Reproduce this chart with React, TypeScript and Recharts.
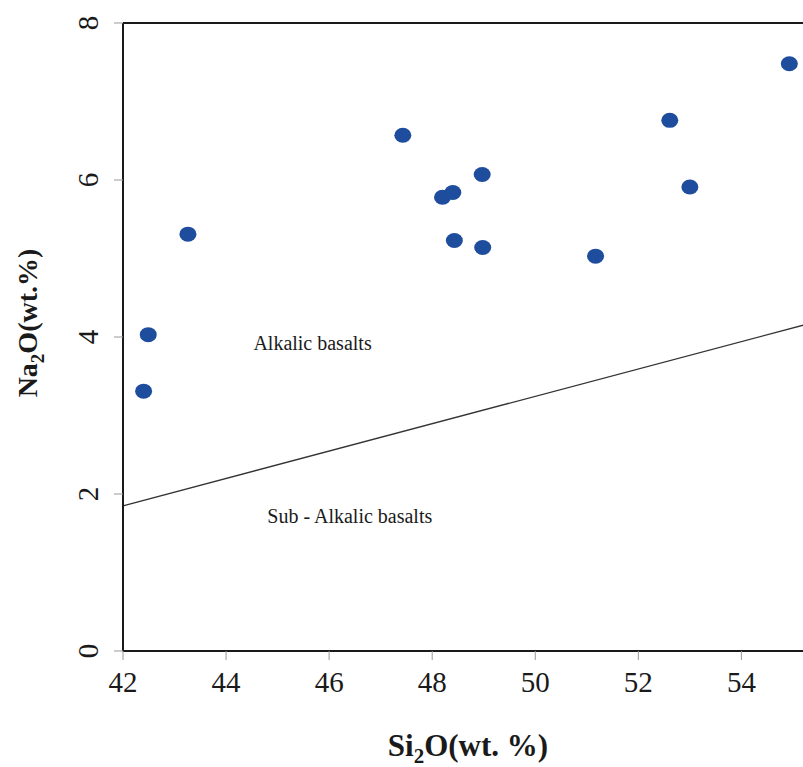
import { ScatterChart, Scatter, XAxis, YAxis, ReferenceLine, Label } from 'recharts';

const SIO2 = [42.4, 42.49, 43.26, 47.43, 48.2, 48.4, 48.43, 48.97, 48.98, 51.17, 52.61, 53.0, 54.93];
const NA2O = [3.31, 4.03, 5.31, 6.57, 5.78, 5.84, 5.23, 6.07, 5.14, 5.03, 6.76, 5.91, 7.48];
const X_TICKS = [42, 44, 46, 48, 50, 52, 54];
const Y_TICKS = [0, 2, 4, 6, 8];
const X_DOMAIN = [42, 55.37];
const DIVIDER = [
  { x: 42, y: 1.85 },
  { x: 55.37, y: 4.18 },
];
const FIELD_NAMES = ['Alkalic basalts', 'Sub - Alkalic basalts'];
const FIELD_X = [44.53, 44.8];
const FIELD_Y = [3.83, 1.63];

const samples = SIO2.map((x, i) => ({ x, y: NA2O[i] }));
const fieldLabels = FIELD_NAMES.map((text, i) => ({ x: FIELD_X[i], y: FIELD_Y[i], text }));

const SERIF = '"Liberation Serif", "Times New Roman", serif';
const INK = '#1a1a1a';
const DOT = '#1e4d9e';

function SampleDot(props: any) {
  return <ellipse cx={props.cx} cy={props.cy} rx={8.5} ry={7.5} fill={DOT} />;
}

function FieldText(props: any) {
  return (
    <text x={props.cx} y={props.cy} fontFamily={SERIF} fontSize={20} fill={INK}>
      {props.payload.text}
    </text>
  );
}

function XTick(props: any) {
  const { x, y, payload } = props;
  return (
    <text x={x} y={y} dy={21} textAnchor="middle" fontFamily={SERIF} fontSize={29} fill={INK}>
      {payload.value}
    </text>
  );
}

function YTick(props: any) {
  const { x, y, payload } = props;
  return (
    <text
      x={x}
      y={y}
      transform={`rotate(-90 ${x} ${y})`}
      textAnchor="middle"
      fontFamily={SERIF}
      fontSize={29}
      fill={INK}
    >
      {payload.value}
    </text>
  );
}

function XTitle() {
  return (
    <text x={468} y={756} textAnchor="middle" fontFamily={SERIF} fontWeight="bold" fontSize={31} fill={INK}>
      Si
      <tspan dy={7} fontSize={21}>2</tspan>
      <tspan dy={-7}>O(wt. %)</tspan>
    </text>
  );
}

function YTitle() {
  return (
    <text
      x={37}
      y={323}
      transform="rotate(-90 37 323)"
      textAnchor="middle"
      fontFamily={SERIF}
      fontWeight="bold"
      fontSize={28}
      fill={INK}
    >
      Na
      <tspan dy={7} fontSize={19}>2</tspan>
      <tspan dy={-7}>O(wt.%)</tspan>
    </text>
  );
}

export default function App() {
  return (
    <div style={{ position: 'absolute', left: 0, top: 0, width: 803, height: 767, overflow: 'hidden', background: '#fff' }}>
      <ScatterChart width={812} height={767} margin={{ top: 23, right: 0, bottom: 0, left: 0 }}>
        <XAxis
          type="number"
          dataKey="x"
          domain={X_DOMAIN}
          ticks={X_TICKS}
          allowDataOverflow
          height={116}
          axisLine={{ stroke: INK, strokeWidth: 2 }}
          tickLine={{ stroke: '#999' }}
          tickSize={9}
          tickMargin={11}
          tick={<XTick />}
        >
          <Label content={<XTitle />} />
        </XAxis>
        <YAxis
          type="number"
          dataKey="y"
          domain={[0, 8]}
          ticks={Y_TICKS}
          width={123}
          axisLine={{ stroke: INK, strokeWidth: 2 }}
          tickLine={{ stroke: '#999' }}
          tickSize={9}
          tickMargin={16}
          tick={<YTick />}
        >
          <Label content={<YTitle />} />
        </YAxis>
        <ReferenceLine y={8} stroke={INK} strokeWidth={2} />
        <ReferenceLine segment={DIVIDER} stroke="#333" strokeWidth={1.3} ifOverflow="visible" />
        <Scatter data={fieldLabels} shape={<FieldText />} isAnimationActive={false} />
        <Scatter data={samples} shape={<SampleDot />} isAnimationActive={false} />
      </ScatterChart>
    </div>
  );
}
